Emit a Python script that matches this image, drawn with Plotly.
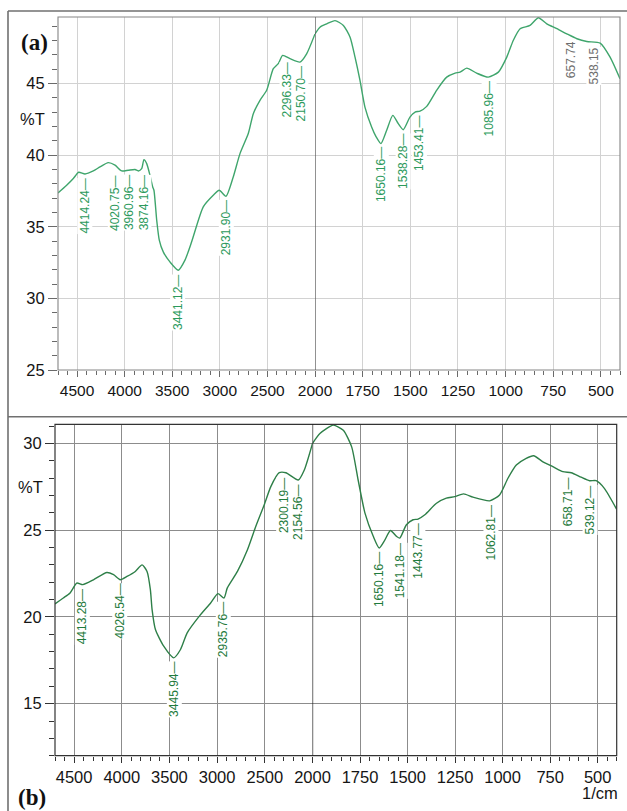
import numpy as np
import plotly.graph_objects as go

# ---------------- data ----------------
wn_a = [4700, 4609, 4539, 4483, 4416, 4329, 4259, 4172, 4101, 4031, 3962, 3891, 3856, 3821,
        3797, 3768, 3734, 3705, 3692, 3663, 3636, 3594, 3524, 3436, 3366, 3296, 3174, 3069,
        3006, 2935, 2859, 2788, 2701, 2648, 2578, 2508, 2438, 2386, 2340, 2263, 2158, 2088,
        2000, 1974, 1939, 1895, 1851, 1816, 1790, 1764, 1738, 1703, 1680, 1654, 1624, 1592,
        1563, 1537, 1502, 1475, 1449, 1414, 1362, 1309, 1265, 1239, 1204, 1152, 1091, 1038,
        994, 960, 924, 872, 828, 784, 731, 679, 626, 574, 504, 452, 400]
t_a = [37.36, 37.90, 38.37, 38.81, 38.69, 38.90, 39.18, 39.48, 39.30, 38.90, 38.95, 39.00, 38.90, 39.06,
       39.69, 39.41, 38.60, 37.78, 37.55, 35.46, 34.07, 33.25, 32.55, 31.97, 32.67, 33.95, 36.39, 37.20,
       37.55, 37.13, 38.48, 40.11, 41.51, 42.90, 43.83, 44.53, 46.04, 46.39, 46.97, 46.74, 46.50, 47.08,
       48.47, 48.94, 49.17, 49.40, 49.06, 48.24, 46.85, 45.22, 43.36, 41.97, 41.30, 40.81, 41.74, 42.78,
       42.20, 41.78, 42.66, 43.01, 43.08, 43.41, 44.53, 45.45, 45.73, 45.80, 46.08, 45.73, 45.45, 45.80,
       46.85, 48.01, 48.83, 49.06, 49.60, 49.17, 48.83, 48.47, 48.13, 47.94, 47.83, 46.85, 45.34]

wn_b = [4700, 4613, 4542, 4472, 4408, 4297, 4156, 4086, 4016, 3945, 3858, 3787, 3735, 3700,
        3682, 3647, 3560, 3455, 3384, 3314, 3174, 3068, 2992, 2928, 2893, 2787, 2682, 2595,
        2507, 2437, 2349, 2279, 2149, 2086, 2000, 1961, 1891, 1838, 1794, 1760, 1724, 1681,
        1649, 1619, 1590, 1558, 1541, 1506, 1471, 1445, 1409, 1348, 1296, 1252, 1205, 1156,
        1068, 1016, 972, 928, 876, 837, 788, 736, 683, 639, 587, 543, 508, 465, 400]
t_b = [20.75, 21.09, 21.38, 21.95, 21.86, 22.14, 22.56, 22.43, 22.14, 22.33, 22.62, 23.00, 22.62, 21.57,
       20.42, 19.27, 18.31, 17.64, 18.12, 19.08, 20.13, 20.80, 21.34, 21.09, 21.67, 22.62, 23.87, 25.21,
       26.45, 27.51, 28.31, 28.31, 27.89, 28.47, 30.00, 30.57, 31.05, 30.76, 29.80, 27.89, 25.98, 24.66,
       23.97, 24.44, 24.98, 24.64, 24.54, 25.31, 25.60, 25.64, 25.89, 26.55, 26.84, 26.93, 27.09, 26.90,
       26.69, 27.03, 27.99, 28.75, 29.14, 29.29, 28.94, 28.66, 28.37, 28.31, 28.05, 27.85, 27.85, 27.41, 26.20]

peaks_a = [4414.24, 4020.75, 3960.96, 3874.16, 3441.12, 2931.90, 2296.33, 2150.70,
           1650.16, 1538.28, 1453.41, 1085.96]
gray_peaks_a = [657.74, 538.15]
peaks_b = [4413.28, 4026.54, 3445.94, 2935.76, 2300.19, 2154.56, 1650.16, 1541.18,
           1443.77, 1062.81, 658.71, 539.12]

x_ticks_left = [4500, 4000, 3500, 3000, 2500, 2000]
x_ticks_right = [1750, 1500, 1250, 1000, 750, 500]
y_ticks_a = [25, 30, 35, 40, 45]
y_ticks_b = [15, 20, 25, 30]
BREAK = 2000

# ---------------- styling ----------------
W, H = 627, 811
FONT = "Liberation Sans, Arial, sans-serif"
SERIF = "Liberation Serif, Times New Roman, serif"
line_a, lab_a, gray_lab = "#3fa56c", "#2c9a5c", "#6e6e6e"
line_b, lab_b = "#2e7f48", "#1f7a3c"
label_xshift = {4020.75: -7, 3874.16: 7}


def px(x):
    return x / W


def py(y):
    return 1 - y / H


# pixel geometry of the two panels
A = dict(l=58, b=315, r=620, t=17, bot=370)
B = dict(l=55, b=312.5, r=616.7, t=424.3, bot=755.7)

fig = go.Figure()


def add_curve(wn, t, color, xl, xr, yax):
    wn = np.array(wn, float)
    t = np.array(t, float)
    m1 = wn >= BREAK
    m2 = wn <= BREAK
    for m, xa in ((m1, xl), (m2, xr)):
        fig.add_trace(go.Scatter(x=wn[m], y=t[m], mode="lines", xaxis=xa, yaxis=yax,
                                 line=dict(color=color, width=1.4, shape="spline", smoothing=0.6),
                                 hoverinfo="skip", showlegend=False))


add_curve(wn_a, t_a, line_a, "x", "x2", "y")
add_curve(wn_b, t_b, line_b, "x3", "x4", "y2")


def xcfg(domain, rng, tickvals, minor_dtick, anchor, tickcolor, gridcolor, fsize):
    return dict(domain=domain, range=rng, tickmode="array", tickvals=tickvals,
                ticktext=[str(v) for v in tickvals], ticks="outside", ticklen=6,
                tickwidth=1, tickcolor=tickcolor, showgrid=True, gridcolor=gridcolor,
                gridwidth=1, zeroline=False, showline=False, anchor=anchor, automargin=False,
                tickfont=dict(family=FONT, size=fsize, color="#151515"),
                minor=dict(tickmode="linear", tick0=0, dtick=minor_dtick, ticks="outside",
                           ticklen=4, tickwidth=1, tickcolor=tickcolor, showgrid=False))


def ycfg(domain, rng, tickvals, anchor, tickcolor, gridcolor):
    return dict(domain=domain, range=rng, tickmode="array", tickvals=tickvals,
                ticks="outside", ticklen=9, tickwidth=1, tickcolor=tickcolor,
                showgrid=True, gridcolor=gridcolor, gridwidth=1, zeroline=False,
                showline=False, anchor=anchor, automargin=False,
                tickfont=dict(family=FONT, size=16.5, color="#151515"),
                minor=dict(tickmode="linear", tick0=0, dtick=1, ticks="outside",
                           ticklen=5, tickwidth=1, tickcolor=tickcolor, showgrid=False))


ga, gb = "#d2d2d2", "#8c8c8c"
ta, tb = "#6a6a6a", "#333333"
fig.update_layout(
    xaxis=xcfg([px(A["l"]), px(A["b"])], [4700, BREAK], x_ticks_left, 100, "y", ta, ga, 15.5),
    xaxis2=xcfg([px(A["b"]), px(A["r"])], [BREAK, 400], x_ticks_right, 50, "y", ta, ga, 15.5),
    yaxis=ycfg([py(A["bot"]), py(A["t"])], [25, 49.65], y_ticks_a, "x", ta, ga),
    xaxis3=xcfg([px(B["l"]), px(B["b"])], [4700, BREAK], x_ticks_left, 100, "y2", tb, gb, 16.5),
    xaxis4=xcfg([px(B["b"]), px(B["r"])], [BREAK, 400], x_ticks_right, 50, "y2", tb, gb, 16.5),
    yaxis2=ycfg([py(B["bot"]), py(B["t"])], [12, 31.1], y_ticks_b, "x3", tb, gb),
)

shapes = []
# outer frame and separator
for (x0, y0, x1, y1) in [(8, 11, 8, 811), (8, 11, 627, 11), (8, 416.7, 627, 416.7)]:
    shapes.append(dict(type="line", xref="paper", yref="paper", x0=px(x0), y0=py(y0),
                       x1=px(x1), y1=py(y1), line=dict(color="#707070", width=1.6)))
# panel boxes
for P, c, w in ((A, "#858585", 1.1), (B, "#333333", 1.2)):
    shapes.append(dict(type="rect", xref="paper", yref="paper", x0=px(P["l"]), x1=px(P["r"]),
                       y0=py(P["bot"]), y1=py(P["t"]), line=dict(color=c, width=w)))
# scale-break lines at 2000
shapes.append(dict(type="line", xref="x2", yref="y domain", x0=BREAK, x1=BREAK, y0=0, y1=1,
                   line=dict(color="#555555", width=1.3)))
shapes.append(dict(type="line", xref="x4", yref="y2 domain", x0=BREAK, x1=BREAK, y0=0, y1=1,
                   line=dict(color="#1a1a1a", width=1.3)))
fig.update_layout(shapes=shapes)

ann = []


def peak_labels(peaks, wn, t, color, xl, xr, yax, dash=True):
    wn = np.array(wn, float)[::-1]
    t = np.array(t, float)[::-1]
    for p in peaks:
        yv = float(np.interp(p, wn, t))
        ann.append(dict(x=p, y=yv, xref=xl if p > BREAK else xr, yref=yax,
                        text=f"{p:.2f}" + ("\u2014" if dash else ""), textangle=-90,
                        showarrow=False, xanchor="center", yanchor="top", yshift=-4,
                        xshift=label_xshift.get(p, 0), bgcolor="white", borderpad=0,
                        font=dict(family=FONT, size=12, color=color)))


peak_labels(peaks_a, wn_a, t_a, lab_a, "x", "x2", "y")
peak_labels(gray_peaks_a, wn_a, t_a, gray_lab, "x", "x2", "y", dash=False)
peak_labels(peaks_b, wn_b, t_b, lab_b, "x3", "x4", "y2")

common = dict(showarrow=False, xanchor="center", yanchor="middle")
ann += [
    dict(x=px(32), y=42.5, xref="paper", yref="y", text="%T",
         font=dict(family=FONT, size=16.5, color="#151515"), **common),
    dict(x=px(30), y=27.5, xref="paper", yref="y2", text="%T",
         font=dict(family=FONT, size=16.5, color="#151515"), **common),
    dict(x=px(34.5), y=py(42), xref="paper", yref="paper", text="<b>(a)</b>",
         font=dict(family=SERIF, size=23, color="#111"), **common),
    dict(x=px(31.5), y=py(797), xref="paper", yref="paper", text="<b>(b)</b>",
         font=dict(family=SERIF, size=23, color="#111"), **common),
    dict(x=px(600), y=py(792.7), xref="paper", yref="paper", text="1/cm",
         font=dict(family=FONT, size=16.5, color="#151515"), **common),
]
fig.update_layout(annotations=ann)

fig.update_layout(width=W, height=H, margin=dict(l=0, r=0, t=0, b=0, autoexpand=False),
                  paper_bgcolor="white", plot_bgcolor="white", showlegend=False)

fig.write_html("out.html")
